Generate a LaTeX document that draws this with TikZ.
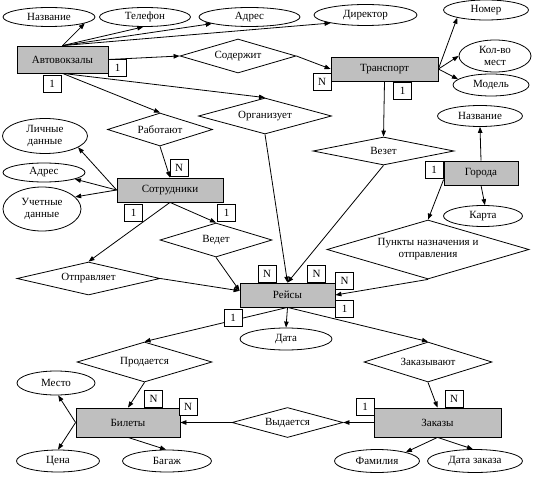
\documentclass[tikz,border=0pt]{standalone}
\usepackage{fontspec}
\setmainfont{Liberation Serif}
\usetikzlibrary{positioning, arrows.meta, shapes.geometric}

\begin{document}
\begin{tikzpicture}[
    x=1pt, y=-1pt, line width=0.8pt,
    font=\fontsize{11}{12}\selectfont,
    entity/.style={
      draw=black, fill=black!25, rectangle, inner sep=0pt,
    },
    attr/.style={
      draw=black, fill=white, ellipse, inner sep=0pt, align=center,
    },
    rel/.style={
      draw=black, fill=white, diamond, aspect=3.5, inner sep=0pt, align=center,
    },
    card/.style={
      draw=black, fill=white, rectangle, inner sep=0pt,
      minimum width=18pt, minimum height=17pt,
    },
    link/.style={-{Triangle[length=6pt,width=4.5pt]}},
]
\useasboundingbox (0,0) rectangle (534,478);

% Entities
\node[entity, minimum width=91pt, minimum height=27pt] (avto)   at (62.5,59.5) {Автовокзалы};
\node[entity, minimum width=107pt, minimum height=24pt] (trans) at (384.5,69)  {Транспорт};
\node[entity, minimum width=106pt, minimum height=24pt] (sotr)  at (170,190)   {Сотрудники};
\node[entity, minimum width=74pt, minimum height=24pt] (goroda) at (481,173)   {Города};
\node[entity, minimum width=95pt, minimum height=24pt] (reisy)  at (287.5,295) {Рейсы};
\node[entity, minimum width=104pt, minimum height=29pt] (bilety) at (128,422.5) {Билеты};
\node[entity, minimum width=127pt, minimum height=29pt] (zakazy) at (437.5,422.5) {Заказы};

% Attributes
\node[attr, minimum width=92pt, minimum height=19pt] (a-nazv) at (49,17)    {Название};
\node[attr, minimum width=91pt, minimum height=19pt] (a-tel)  at (145,17)   {Телефон};
\node[attr, minimum width=101pt, minimum height=19pt] (a-adr) at (249.5,17) {Адрес};
\node[attr, minimum width=103pt, minimum height=21pt] (a-dir) at (365.5,15) {Директор};
\node[attr, minimum width=85pt, minimum height=20pt] (t-nom)  at (486,10)   {Номер};
\node[attr, minimum width=72pt, minimum height=32pt] (t-kol)  at (495,56)   {Кол-во\\мест};
\node[attr, minimum width=76pt, minimum height=22pt] (t-mod)  at (491,85)   {Модель};
\node[attr, minimum width=85pt, minimum height=21pt] (g-nazv) at (480,116)  {Название};
\node[attr, minimum width=79pt, minimum height=21pt] (g-karta) at (483,216) {Карта};
\node[attr, minimum width=85pt, minimum height=35pt] (s-lich) at (45,136)   {Личные\\данные};
\node[attr, minimum width=82pt, minimum height=19pt] (s-adr)  at (44,172.5) {Адрес};
\node[attr, minimum width=78pt, minimum height=44pt] (s-uch)  at (42,209)   {Учетные\\данные};
\node[attr, minimum width=92pt, minimum height=22pt] (r-data) at (286,339)  {Дата};
\node[attr, minimum width=78pt, minimum height=24pt] (b-mesto) at (56,383)  {Место};
\node[attr, minimum width=83pt, minimum height=22pt] (b-cena) at (58,461)   {Цена};
\node[attr, minimum width=89pt, minimum height=22pt] (b-bagazh) at (167,461) {Багаж};
\node[attr, minimum width=85pt, minimum height=23pt] (z-fam)  at (377,461)  {Фамилия};
\node[attr, minimum width=95pt, minimum height=23pt] (z-data) at (475,461)  {Дата заказа};

% Relationships
\node[rel, minimum width=116pt, minimum height=34pt] (soderzhit)  at (238,56)    {Содержит};
\node[rel, minimum width=105pt, minimum height=33pt] (rabotayut)  at (160,129.5) {Работают};
\node[rel, minimum width=133pt, minimum height=36pt] (organizuet) at (265,116)   {Организует};
\node[rel, minimum width=141pt, minimum height=28pt] (vezet)      at (383.5,151) {Везет};
\node[rel, minimum width=112pt, minimum height=34pt] (vedet)      at (216,240)   {Ведет};
\node[rel, minimum width=143pt, minimum height=33pt] (otpravl)    at (88.5,278.5) {Отправляет};
\node[rel, minimum width=202pt, minimum height=59pt] (punkty)     at (428,249.5) {Пункты назначения и\\отправления};
\node[rel, minimum width=135pt, minimum height=40pt] (prodaetsya) at (144.5,362) {Продается};
\node[rel, minimum width=128pt, minimum height=40pt] (zakazyv)    at (428,362)   {Заказывают};
\node[rel, minimum width=111pt, minimum height=30pt] (vydaetsya)  at (287.5,422.5) {Выдается};

% Автовокзалы
\draw[link] (avto.north) -- (a-nazv.-10);
\draw[link] (avto.north) -- (a-tel.260);
\draw[link] (avto.north) -- (a-adr.190);
\draw[link] (avto.north) -- (a-dir.193);
\draw[link] (avto.east) -- (soderzhit.west);
\draw[link] (soderzhit.east) -- (trans.west);
\draw[link] (avto.south) -- (rabotayut.north);
\draw[link] (avto.south) -- (organizuet.north);

% Транспорт
\draw[link] (trans.east) -- (t-nom.195);
\draw[link] (trans.east) -- (t-kol.west);
\draw[link] (trans.east) -- (t-mod.170);
\draw[link] (trans.south) -- (vezet.north);

% Города
\draw[link] (goroda.north) -- (g-nazv.south);
\draw[link] (goroda.south) -- (g-karta.80);
\draw[link] (goroda.190) -- (punkty.north);

% Сотрудники
\draw[link] (sotr.west) -- (s-lich.-19);
\draw[link] (sotr.west) -- (s-adr.-12);
\draw[link] (sotr.west) -- (s-uch.20);
\draw[link] (rabotayut.south) -- (sotr.north);
\draw[link] (sotr.south) -- (otpravl.north);
\draw[link] (sotr.south) -- (vedet.north);

% Рейсы
\draw[link] (vedet.south) -- (reisy.175);
\draw[link] (otpravl.east) -- (reisy.175);
\draw[link] (organizuet.south) -- (reisy.north);
\draw[link] (vezet.south) -- (reisy.north);
\draw[link] (punkty.south) -- (reisy.east);
\draw[link] (reisy.south) -- (r-data.north);
\draw[link] (reisy.south) -- (prodaetsya.north);
\draw[link] (reisy.south) -- (zakazyv.north);

% Билеты и Заказы
\draw[link] (prodaetsya.south) -- (bilety.north);
\draw[link] (zakazyv.south) -- (zakazy.north);
\draw[link] (zakazy.west) -- (vydaetsya.east);
\draw[link] (vydaetsya.west) -- (bilety.east);
\draw[link] (bilety.west) -- (b-mesto.-80);
\draw[link] (bilety.west) -- (b-cena.north);
\draw[link] (bilety.south) -- (b-bagazh.95);
\draw[link] (zakazy.south) -- (z-fam.17);
\draw[link] (zakazy.south) -- (z-data.100);

% Cardinalities
\node[card] (c-avto-r)  at (117.5,67.5) {1};
\node[card] (c-avto-b)  at (52,83.5)    {1};
\node[card] (c-trans-l) at (322,81.5)   {N};
\node[card] (c-trans-b) at (402.5,91)   {1};
\node[card] (c-sotr-t)  at (179,167.5)  {N};
\node[card] (c-sotr-l)  at (133.5,212.5) {1};
\node[card] (c-sotr-r)  at (226.5,212.5) {1};
\node[card] (c-gor)     at (434,169.5)  {1};
\node[card] (c-reisy-1) at (267,273.5)  {N};
\node[card] (c-reisy-2) at (316.5,273.5) {N};
\node[card] (c-reisy-3) at (344.5,281)  {N};
\node[card] (c-reisy-4) at (344.5,308.5) {1};
\node[card] (c-reisy-5) at (233,318)    {1};
\node[card] (c-bil-1)   at (153.5,399)  {N};
\node[card] (c-bil-2)   at (188,406.5)  {N};
\node[card] (c-zak-l)   at (365,406.5)  {1};
\node[card] (c-zak-t)   at (454,399)    {N};
\end{tikzpicture}
\end{document}
